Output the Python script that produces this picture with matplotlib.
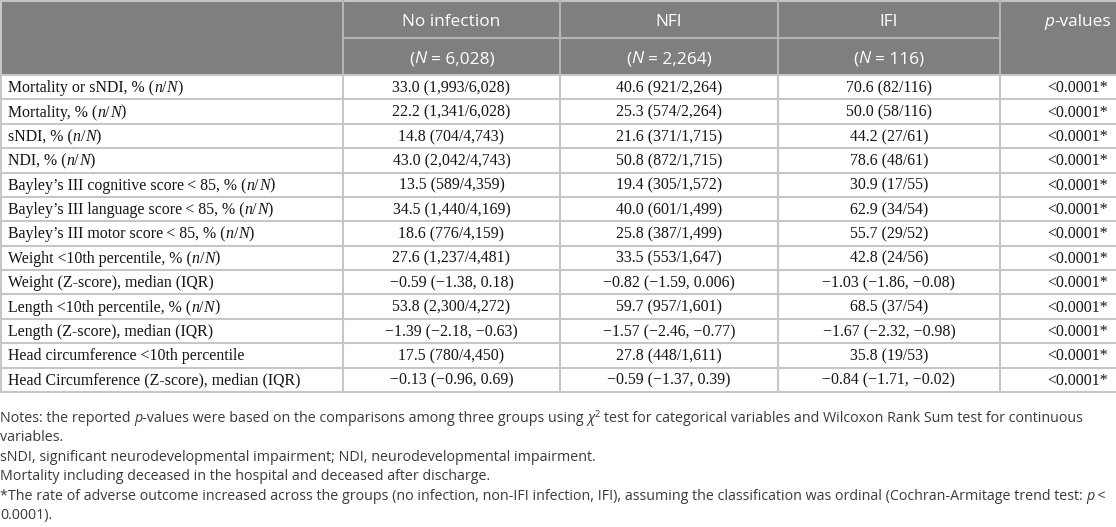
import re
import matplotlib
matplotlib.use("Agg")
import matplotlib.pyplot as plt
from matplotlib.patches import Rectangle

# ---------------- data ----------------
groups = ["No infection", "NFI", "IFI"]
group_n = ["6,028", "2,264", "116"]
p_header = "_p_-values"

row_labels = [
    "Mortality or sNDI, % (_n_/_N_)",
    "Mortality, % (_n_/_N_)",
    "sNDI, % (_n_/_N_)",
    "NDI, % (_n_/_N_)",
    "Bayley\u2019s III cognitive score\u2009< 85, % (_n_/_N_)",
    "Bayley\u2019s III language score\u2009< 85, % (_n_/_N_)",
    "Bayley\u2019s III motor score\u2009< 85, % (_n_/_N_)",
    "Weight <10th percentile, % (_n_/_N_)",
    "Weight (Z-score), median (IQR)",
    "Length <10th percentile, % (_n_/_N_)",
    "Length (Z-score), median (IQR)",
    "Head circumference <10th percentile",
    "Head Circumference (Z-score), median (IQR)",
]
no_infection = ["33.0 (1,993/6,028)", "22.2 (1,341/6,028)", "14.8 (704/4,743)",
                "43.0 (2,042/4,743)", "13.5 (589/4,359)", "34.5 (1,440/4,169)",
                "18.6 (776/4,159)", "27.6 (1,237/4,481)", "\u22120.59 (\u22121.38, 0.18)",
                "53.8 (2,300/4,272)", "\u22121.39 (\u22122.18, \u22120.63)",
                "17.5 (780/4,450)", "\u22120.13 (\u22120.96, 0.69)"]
nfi = ["40.6 (921/2,264)", "25.3 (574/2,264)", "21.6 (371/1,715)",
       "50.8 (872/1,715)", "19.4 (305/1,572)", "40.0 (601/1,499)",
       "25.8 (387/1,499)", "33.5 (553/1,647)", "\u22120.82 (\u22121.59, 0.006)",
       "59.7 (957/1,601)", "\u22121.57 (\u22122.46, \u22120.77)",
       "27.8 (448/1,611)", "\u22120.59 (\u22121.37, 0.39)"]
ifi = ["70.6 (82/116)", "50.0 (58/116)", "44.2 (27/61)", "78.6 (48/61)",
       "30.9 (17/55)", "62.9 (34/54)", "55.7 (29/52)", "42.8 (24/56)",
       "\u22121.03 (\u22121.86, \u22120.08)", "68.5 (37/54)",
       "\u22121.67 (\u22122.32, \u22120.98)", "35.8 (19/53)",
       "\u22120.84 (\u22121.71, \u22120.02)"]
p_values = ["<0.0001*"] * 13

notes = [
    "Notes: the reported _p_-values were based on the comparisons among three groups using _\u03c7_^2^ test for categorical variables and Wilcoxon Rank Sum test for continuous",
    "variables.",
    "sNDI, significant neurodevelopmental impairment; NDI, neurodevelopmental impairment.",
    "Mortality including deceased in the hospital and deceased after discharge.",
    "*The rate of adverse outcome increased across the groups (no infection, non-IFI infection, IFI), assuming the classification was ordinal (Cochran-Armitage trend test: _p_\u2009<",
    "0.0001).",
]

# ---------------- layout ----------------
W, H = 1116, 527
fig = plt.figure(figsize=(W / 100, H / 100), dpi=100)
ax = fig.add_axes([0, 0, 1, 1])
ax.set_xlim(0, W)
ax.set_ylim(H, 0)
ax.axis("off")
renderer = fig.canvas.get_renderer()

col_edges = [0, 343, 560, 778, 1000, 1156]
hdr_split, hdr_bottom = 38, 75
n_rows = len(row_labels)
row_h = (392 - hdr_bottom) / n_rows

HDR_BG = "#7f7f7f"
GRID = "#c6c6c6"
HDR_GRID = "#b4b4b4"

SERIF = dict(family="Liberation Serif", size=11.4, color="#141414")
HSANS = dict(family="Open Sans", size=12.4, color="white")
NSANS = dict(family="Open Sans", size=10.25, color="#3a3a3a")


def parse(s):
    toks = re.split(r"(_[^_]*_|\^[^^]*\^)", s)
    out = []
    for t in toks:
        if not t:
            continue
        if t.startswith("_"):
            out.append((t[1:-1], "it"))
        elif t.startswith("^"):
            out.append((t[1:-1], "sup"))
        else:
            out.append((t, "rm"))
    return out


def width_of(s, style):
    t = ax.text(0, 0, s, **style)
    w = t.get_window_extent(renderer).width
    t.remove()
    return w


def draw_runs(x, y, s, base, ha="left"):
    runs = parse(s)
    sp = width_of("x x", base) - width_of("xx", base)
    items = []
    total = 0.0
    for txt, kind in runs:
        st = dict(base)
        dy = 0
        if kind == "it":
            st["style"] = "italic"
        elif kind == "sup":
            st["size"] = base["size"] * 0.65
            dy = -base["size"] * 0.45
        lead = len(txt) - len(txt.lstrip(" "))
        trail = len(txt) - len(txt.rstrip(" "))
        core = txt.strip(" ")
        total += lead * sp
        w = width_of(core, st) if core else 0
        items.append((total, core, st, dy))
        total += w + trail * sp
    x0 = x - total / 2 if ha == "center" else x
    for off, core, st, dy in items:
        if core:
            ax.text(x0 + off, y + dy, core, va="baseline", ha="left", **st)


# header background
ax.add_patch(Rectangle((0, 0), W, hdr_bottom, facecolor=HDR_BG, edgecolor="none", zorder=0))
ax.plot([0, W], [1, 1], color=GRID, lw=1.5, zorder=1)
ax.plot([col_edges[1], col_edges[4]], [hdr_split, hdr_split], color=HDR_GRID, lw=1.5, zorder=1)
for xe in col_edges[1:5]:
    ax.plot([xe, xe], [0, hdr_bottom], color=HDR_GRID, lw=1.5, zorder=1)

# header texts
for i, (g, n) in enumerate(zip(groups, group_n)):
    cx = (col_edges[i + 1] + col_edges[i + 2]) / 2
    draw_runs(cx, hdr_split / 2 + 6.5, g, HSANS, ha="center")
    draw_runs(cx, (hdr_split + hdr_bottom) / 2 + 6.5, "(_N_ = " + n + ")", HSANS, ha="center")
draw_runs((col_edges[4] + col_edges[5]) / 2, hdr_split / 2 + 6.5, p_header, HSANS, ha="center")

# body grid
table_bottom = hdr_bottom + n_rows * row_h
for r in range(n_rows + 1):
    yy = hdr_bottom + r * row_h
    ax.plot([0, W], [yy, yy], color=GRID, lw=1.5, zorder=1)
for xe in [1] + col_edges[1:5]:
    ax.plot([xe, xe], [hdr_bottom, table_bottom], color=GRID, lw=1.5, zorder=1)
ax.plot([1, 1], [0, hdr_bottom], color=GRID, lw=1.5, zorder=1)

# body texts
cols = [no_infection, nfi, ifi, p_values]
for r in range(n_rows):
    yb = hdr_bottom + (r + 0.5) * row_h + 5
    draw_runs(8, yb, row_labels[r], SERIF, ha="left")
    for c, vals in enumerate(cols):
        cx = (col_edges[c + 1] + col_edges[c + 2]) / 2
        draw_runs(cx, yb, vals[r], SERIF, ha="center")

# notes
note_c0, note_dy = 417, 19.4
for k, line in enumerate(notes):
    draw_runs(0, note_c0 + k * note_dy + 5, line, NSANS, ha="left")

fig.savefig("out.png", dpi=100)
